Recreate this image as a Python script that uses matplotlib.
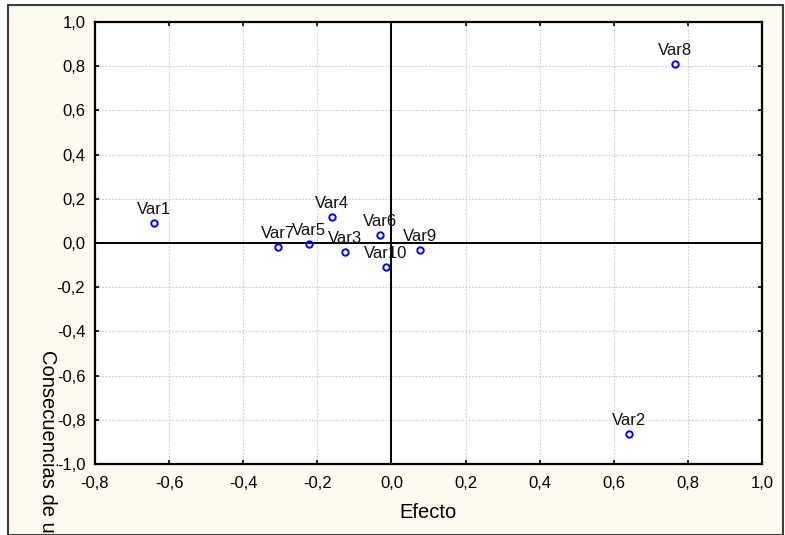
import matplotlib
matplotlib.use("Agg")
import matplotlib.pyplot as plt
from matplotlib.patches import Rectangle
from matplotlib.ticker import FixedLocator, FuncFormatter

plt.rcParams['font.family'] = ['Liberation Sans', 'DejaVu Sans']

# values
var_names = ['Var1', 'Var2', 'Var3', 'Var4', 'Var5', 'Var6', 'Var7', 'Var8', 'Var9', 'Var10']
efecto = [-0.641, 0.640, -0.125, -0.161, -0.222, -0.031, -0.306, 0.766, 0.077, -0.016]
consecuencias = [0.092, -0.866, -0.039, 0.119, -0.005, 0.036, -0.019, 0.809, -0.032, -0.110]

x_ticks = [-0.8, -0.6, -0.4, -0.2, 0.0, 0.2, 0.4, 0.6, 0.8, 1.0]
y_ticks = [-1.0, -0.8, -0.6, -0.4, -0.2, 0.0, 0.2, 0.4, 0.6, 0.8, 1.0]


def coma(v, pos=None):
    """Decimal comma like the original"""
    return '{:.1f}'.format(v).replace('.', ',')


fig = plt.figure(figsize=(7.85, 5.35), dpi=100, facecolor='white')

# cream panel with frame
panel = Rectangle((8 / 785, 0.0), 775 / 785, 530 / 535, transform=fig.transFigure,
                  facecolor='#fffaf0', edgecolor='#3c3c3c', linewidth=1.5, zorder=-10)
fig.patches.append(panel)

ax = fig.add_axes([95 / 785, 71 / 535, 667 / 785, 442 / 535])
ax.set_facecolor('white')

ax.plot(efecto, consecuencias, 'o', markersize=4.6, markerfacecolor='none',
        markeredgecolor='#0000ff', markeredgewidth=1.4, zorder=5)

for name, x, y in zip(var_names, efecto, consecuencias):
    ax.annotate(name, (x, y), xytext=(0, 6.5), textcoords='offset points',
                ha='center', va='baseline', fontsize=12, color='#111111', zorder=6)

ax.axhline(0, color='black', linewidth=1.4, zorder=3)
ax.axvline(0, color='black', linewidth=1.4, zorder=3)

ax.set_xlim(-0.8, 1.0)
ax.set_ylim(-1.0, 1.0)
ax.xaxis.set_major_locator(FixedLocator(x_ticks))
ax.yaxis.set_major_locator(FixedLocator(y_ticks))
ax.xaxis.set_major_formatter(FuncFormatter(coma))
ax.yaxis.set_major_formatter(FuncFormatter(coma))
ax.grid(True, color='#c8c8c8', linestyle=(0, (1.5, 1.5)), linewidth=0.8, zorder=0)

ax.tick_params(direction='in', length=3, width=1.2, top=True, right=True,
               labelsize=12, colors='black')
ax.tick_params(axis='x', pad=9)
ax.tick_params(axis='y', pad=7)
for sp in ax.spines.values():
    sp.set_linewidth(1.6)
    sp.set_color('black')

fig.text(428 / 785, 1 - 513 / 535, 'Efecto', ha='center', va='center', fontsize=14.5)
# the original cuts this label off at the bottom frame
fig.text(47 / 785, 1 - 350 / 535, 'Consecuencias de uso', ha='center', va='top',
         rotation=270, fontsize=14.5)

fig.savefig('out.png', dpi=100, facecolor=fig.get_facecolor())
